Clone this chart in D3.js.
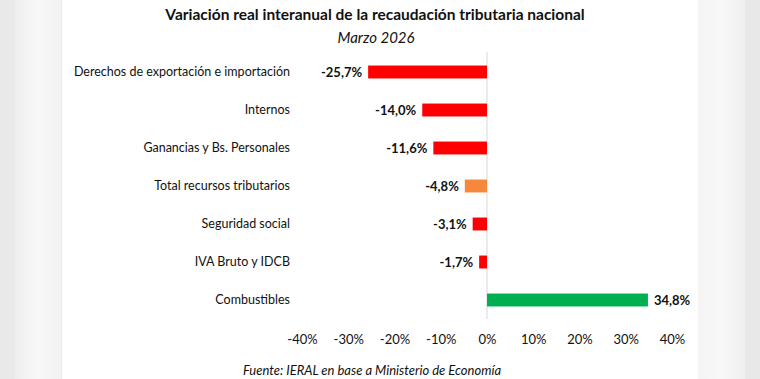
<!DOCTYPE html>
<html><head><meta charset="utf-8">
<script src="https://cdn.jsdelivr.net/npm/d3@7"></script>
<style>
html,body{margin:0;padding:0;background:#fff;}
svg{display:block;}
text{font-family:Lato,"Open Sans",sans-serif;fill:#111;}
</style></head>
<body>
<svg id="chart" width="760" height="379"></svg>
<script>
const categories = ["Derechos de exportación e importación","Internos","Ganancias y Bs. Personales","Total recursos tributarios","Seguridad social","IVA Bruto y IDCB","Combustibles"];
const values = [-25.7,-14.0,-11.6,-4.8,-3.1,-1.7,34.8];
const barKinds = ["neg","neg","neg","total","neg","neg","pos"];
const tickValues = [-40,-30,-20,-10,0,10,20,30,40];
const title = "Variación real interanual de la recaudación tributaria nacional";
const subtitle = "Marzo 2026";
const source = "Fuente: IERAL en base a Ministerio de Economía";

const colors = {neg:"#ff0000", total:"#f5883a", pos:"#00b050"};
const svg = d3.select("#chart");
const W = 760, H = 379;

// page background (screenshot margins)
const defs = svg.append("defs");
const gl = defs.append("linearGradient").attr("id","gl");
gl.append("stop").attr("offset","0").attr("stop-color","#eeeeee");
gl.append("stop").attr("offset","0.5").attr("stop-color","#f8f8f8");
gl.append("stop").attr("offset","1").attr("stop-color","#f2f2f2");
const gr = defs.append("linearGradient").attr("id","gr");
gr.append("stop").attr("offset","0").attr("stop-color","#f4f4f4");
gr.append("stop").attr("offset","0.5").attr("stop-color","#f8f8f8");
gr.append("stop").attr("offset","1").attr("stop-color","#efefef");
svg.append("rect").attr("x",0).attr("y",0).attr("width",W).attr("height",H).attr("fill","#fff");
svg.append("rect").attr("x",0).attr("y",0).attr("width",15).attr("height",H).attr("fill","#e9e9e9");
svg.append("rect").attr("x",15).attr("y",0).attr("width",46).attr("height",H).attr("fill","url(#gl)");
svg.append("rect").attr("x",61).attr("y",0).attr("width",1).attr("height",H).attr("fill","#ececec");
svg.append("rect").attr("x",698).attr("y",0).attr("width",47).attr("height",H).attr("fill","url(#gr)");
svg.append("rect").attr("x",745).attr("y",0).attr("width",15).attr("height",H).attr("fill","#e8e8e8");

const x = d3.scaleLinear().domain([-40,40]).range([302,672]);
const y = d3.scaleBand().domain(categories).range([53,319]).paddingInner(0.66).paddingOuter(0.33);

// titles
svg.append("text").attr("x",375).attr("y",20).attr("text-anchor","middle")
  .style("font-weight","bold").style("font-size","15.5px").text(title);
svg.append("text").attr("x",376).attr("y",43).attr("text-anchor","middle")
  .style("font-style","italic").style("font-size","15px").text(subtitle);

// zero line
svg.append("line").attr("x1",x(0)).attr("x2",x(0)).attr("y1",52).attr("y2",319)
  .attr("stroke","#d9d9d9").attr("stroke-width",1);

// bars
svg.selectAll("rect.bar").data(values).enter().append("rect").attr("class","bar")
  .attr("x",d=>x(Math.min(0,d)))
  .attr("width",d=>Math.abs(x(d)-x(0)))
  .attr("y",(d,i)=>y(categories[i]))
  .attr("height",y.bandwidth())
  .attr("fill",(d,i)=>colors[barKinds[i]]);

const fmt = v => d3.format(".1f")(v).replace(".",",").replace("−","-") + "%";
// value labels
svg.selectAll("text.val").data(values).enter().append("text").attr("class","val")
  .attr("x",d=> d<0 ? x(d)-6 : x(d)+6)
  .attr("y",(d,i)=>y(categories[i])+y.bandwidth()/2)
  .attr("dy","0.35em")
  .attr("text-anchor",d=> d<0 ? "end" : "start")
  .style("font-weight","bold").style("font-size","13px")
  .text(fmt);

// category labels
svg.selectAll("text.cat").data(categories).enter().append("text").attr("class","cat")
  .attr("x",290).attr("y",d=>y(d)+y.bandwidth()/2).attr("dy","0.35em")
  .attr("text-anchor","end").style("font-size","12.5px").text(d=>d);

// x axis
const xAxis = d3.axisBottom(x).tickValues(tickValues).tickSize(0).tickPadding(0)
  .tickFormat(d=> (d<0?"-":"") + Math.abs(d) + "%");
const ax = svg.append("g").attr("transform","translate(0,335)").call(xAxis);
ax.select(".domain").remove();
ax.selectAll("text").style("font-family","Lato,'Open Sans',sans-serif").style("font-size","13px").attr("fill","#111");

// source
svg.append("text").attr("x",372).attr("y",375).attr("text-anchor","middle")
  .style("font-style","italic").style("font-size","13px").text(source);
</script>
</body></html>
